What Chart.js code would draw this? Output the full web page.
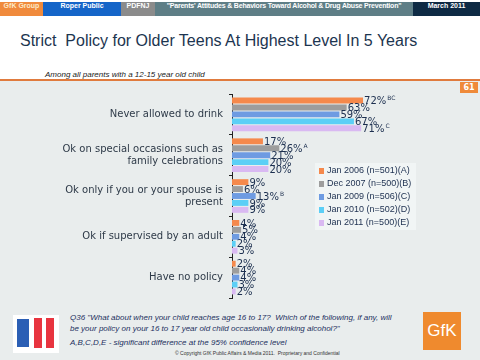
<!DOCTYPE html>
<html><head><meta charset="utf-8">
<script src="https://cdn.jsdelivr.net/npm/chart.js@4/dist/chart.umd.min.js"></script>
<style>
html,body{margin:0;padding:0;width:480px;height:360px;overflow:hidden;background:#fff;font-family:"Liberation Sans",Arial,sans-serif;}
#wrap{position:relative;width:480px;height:360px;}
.hdr{position:absolute;top:2px;height:14px;line-height:14px;font:bold 7px "Liberation Sans",Arial,sans-serif;color:#fff;text-align:center;white-space:nowrap;overflow:hidden;}
#title{position:absolute;left:20px;top:32px;font:16px "Liberation Sans",Arial,sans-serif;color:#1c3550;white-space:nowrap;}
#sub{position:absolute;left:45px;top:70px;font:italic 8px "Liberation Sans",Arial,sans-serif;color:#222;}
#rule{position:absolute;left:0;top:79px;width:480px;height:2px;background:#e07b3e;}
#panel{position:absolute;left:0;top:81px;width:480px;height:279px;background:#e9eded;}
#pg{position:absolute;left:460px;top:82px;width:18px;height:11px;background:#ef8a3a;color:#fff;font:bold 8px "DejaVu Sans",sans-serif;text-align:center;line-height:11px;}
#cv{position:absolute;left:0;top:82px;}
.ft{position:absolute;left:70px;font:italic 8px "Liberation Sans",Arial,sans-serif;color:#1c3060;white-space:nowrap;}
#copy{position:absolute;left:175px;top:350px;font:5px "Liberation Sans",Arial,sans-serif;color:#333;white-space:nowrap;}
#logoL{position:absolute;left:13px;top:315px;width:46px;height:38px;background:#fff;}
#gfk{position:absolute;left:423px;top:312px;width:38px;height:38px;background:#ef8a2e;color:#fff;font:17px "Liberation Sans",Arial,sans-serif;text-align:center;line-height:38px;}
</style></head>
<body><div id="wrap">
<div class="hdr" style="left:0;width:43px;background:#f08a3c;color:#fde9c8;">GfK Group</div>
<div class="hdr" style="left:43px;width:78px;background:#1565c8;">Roper Public</div>
<div class="hdr" style="left:121px;width:34px;background:#8b8b8b;">PDFNJ</div>
<div class="hdr" style="left:155px;width:258px;background:#5e7e86;letter-spacing:-0.2px;">"Parents' Attitudes &amp; Behaviors Toward Alcohol &amp; Drug Abuse Prevention"</div>
<div class="hdr" style="left:413px;width:67px;background:#0e2a44;">March 2011</div>
<div id="title">Strict&nbsp; Policy for Older Teens At Highest Level In 5 Years</div>
<div id="sub">Among all parents with a 12-15 year old child</div>
<div id="rule"></div>
<div id="panel"></div>
<div id="pg">61</div>
<canvas id="cv" width="480" height="228"></canvas>
<div id="logoL">
 <div style="position:absolute;left:4px;top:4px;width:12px;height:28px;background:#2b5fb5;"></div>
 <div style="position:absolute;left:21px;top:3px;width:8px;height:30px;background:#e8343f;"></div>
 <div style="position:absolute;left:33px;top:3px;width:8px;height:30px;background:#e8343f;"></div>
</div>
<div class="ft" style="top:313px;">Q36 "What about when your child reaches age 16 to 17?&nbsp; Which of the following, if any, will</div>
<div class="ft" style="top:324px;">be your policy on your 16 to 17 year old child occasionally drinking alcohol?"</div>
<div class="ft" style="top:338px;">A,B,C,D,E - significant difference at the 95% confidence level</div>
<div id="copy">© Copyright GfK Public Affairs &amp; Media 2011.&nbsp; Proprietary and Confidential</div>
<div id="gfk">GfK</div>
</div>
<script>
const categories = [
  "Never allowed to drink",
  ["Ok on special occasions such as", "family celebrations"],
  ["Ok only if you or your spouse is", "present"],
  "Ok if supervised by an adult",
  "Have no policy"
];
const seriesLabels = ["Jan 2006 (n=501)(A)", "Dec 2007 (n=500)(B)", "Jan 2009 (n=506)(C)", "Jan 2010 (n=502)(D)", "Jan 2011 (n=500)(E)"];
const jan2006 = [72, 17, 9, 4, 2];
const dec2007 = [63, 26, 6, 5, 4];
const jan2009 = [59, 21, 13, 4, 4];
const jan2010 = [67, 20, 9, 2, 3];
const jan2011 = [71, 20, 9, 3, 2];
const sigJan2006 = ["BC", "", "", "", ""];
const sigDec2007 = ["", "A", "", "", ""];
const sigJan2009 = ["", "", "B", "", ""];
const sigJan2010 = ["", "", "", "", ""];
const sigJan2011 = ["C", "", "", "", ""];
const colors = ["#f5894c", "#9d9d9d", "#6e9be2", "#5ccff6", "#d9b9f2"];

const values = [jan2006, dec2007, jan2009, jan2010, jan2011];
const sigs = [sigJan2006, sigDec2007, sigJan2009, sigJan2010, sigJan2011];

const labelPlugin = {
  id: 'vals',
  afterDatasetsDraw(chart) {
    const ctx = chart.ctx;
    ctx.save();
    chart.data.datasets.forEach((ds, di) => {
      const meta = chart.getDatasetMeta(di);
      meta.data.forEach((bar, i) => {
        const txt = ds.data[i] + '%';
        ctx.font = '10px "DejaVu Sans", sans-serif';
        ctx.fillStyle = '#1c2f4f';
        ctx.textBaseline = 'middle';
        ctx.textAlign = 'left';
        const x = bar.x + 1;
        ctx.fillText(txt, x, bar.y + 1);
        const s = sigs[di][i];
        if (s) {
          const w = ctx.measureText(txt).width;
          ctx.font = '6px "DejaVu Sans", sans-serif';
          ctx.fillText(s, x + w + 1, bar.y - 2);
        }
      });
    });
    ctx.restore();
  }
};

const legendPlugin = {
  id: 'lg',
  afterDraw(chart) {
    const ctx = chart.ctx;
    ctx.save();
    ctx.fillStyle = 'rgba(243,246,246,0.8)';
    ctx.fillRect(315, 81, 101, 67);
    chart.data.datasets.forEach((ds, di) => {
      const y = 89 + di * 13;
      ctx.fillStyle = ds.backgroundColor;
      ctx.fillRect(319, y - 3, 5, 6);
      ctx.fillStyle = '#1c2f4f';
      ctx.font = '9px "Liberation Sans", Arial, sans-serif';
      ctx.textBaseline = 'middle';
      ctx.fillText(ds.label, 327, y);
    });
    ctx.restore();
  }
};

new Chart(document.getElementById('cv'), {
  type: 'bar',
  data: {
    labels: categories,
    datasets: seriesLabels.map((l, i) => ({
      label: l, data: values[i], backgroundColor: colors[i],
      categoryPercentage: 0.85, barPercentage: 0.85
    }))
  },
  options: {
    indexAxis: 'y',
    responsive: false,
    animation: false,
    layout: { padding: { left: 0, right: 66, top: 12, bottom: 8 } },
    plugins: { legend: { display: false }, tooltip: { enabled: false } },
    scales: {
      x: { display: false, min: 0, max: 100 },
      y: {
        afterFit(s) { s.width = 232; },
        border: { display: true, color: '#222', width: 1 },
        grid: { display: true, drawOnChartArea: false, drawTicks: true, tickLength: 3, color: '#222' },
        ticks: { color: '#2e3a48', font: { family: '"DejaVu Sans", sans-serif', size: 10 }, padding: 6 }
      }
    }
  },
  plugins: [labelPlugin, legendPlugin]
});
</script>
</body></html>
